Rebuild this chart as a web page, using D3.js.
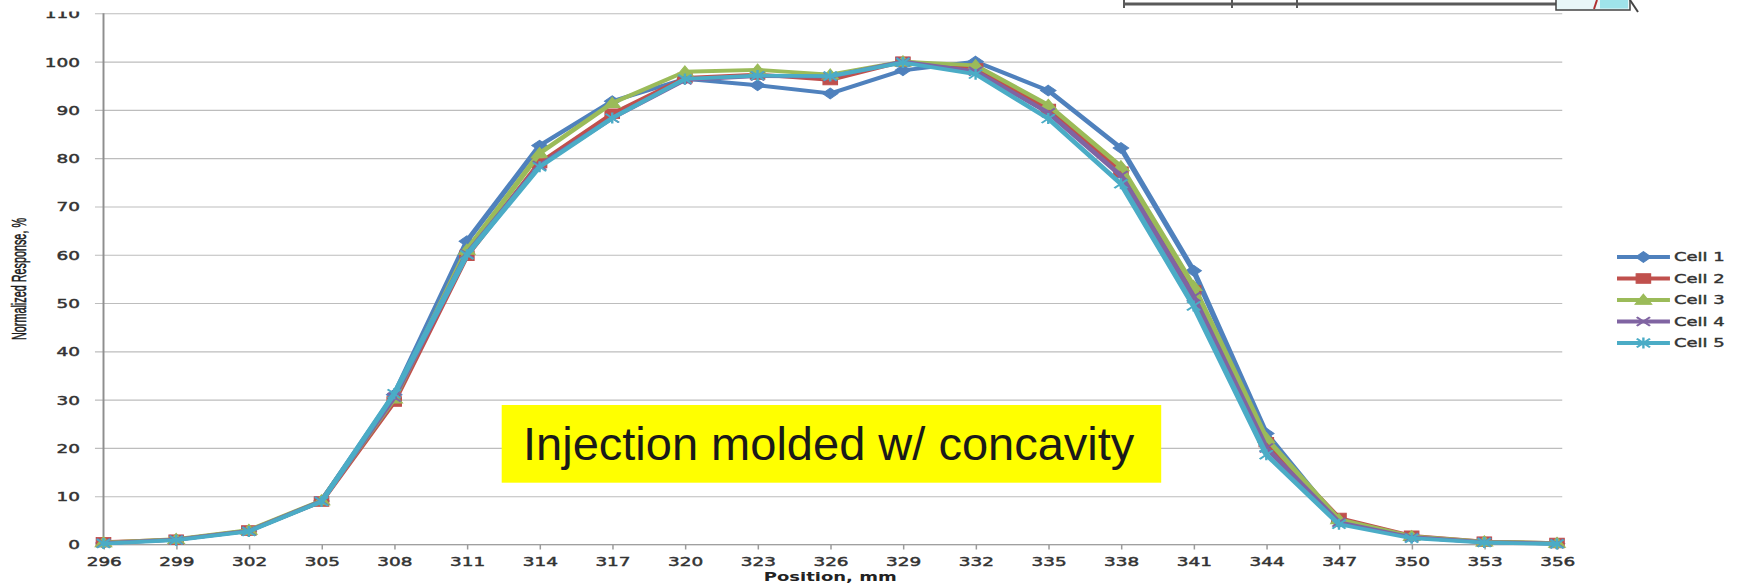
<!DOCTYPE html>
<html>
<head>
<meta charset="utf-8">
<script src="https://cdn.jsdelivr.net/npm/d3@7"></script>
<style>
  html, body { margin: 0; padding: 0; background: #fff; overflow: hidden; }
  svg { display: block; }
</style>
</head>
<body>
<svg id="chart" width="1741" height="586"></svg>
<script>
// Scan positions along the detector (mm) and the tick values of the response axis
const positions = ["296","299","302","305","308","311","314","317","320","323","326",
                   "329","332","335","338","341","344","347","350","353","356"];
const yTicks = [0, 10, 20, 30, 40, 50, 60, 70, 80, 90, 100, 110];

// Normalized response (%) of each cell at each position
const cell1 = [0.3, 1.0, 2.8, 9.0, 31.0, 62.8, 82.6, 91.8, 96.4, 95.1, 93.4, 98.2, 100.0, 94.0, 82.1, 56.7, 23.0, 4.6, 1.5, 0.5, 0.2];
const cell2 = [0.5, 1.0, 2.9, 8.9, 29.6, 59.8, 79.0, 89.2, 96.6, 97.3, 96.2, 100.0, 98.6, 90.2, 77.2, 52.6, 21.2, 5.5, 1.8, 0.6, 0.3];
const cell3 = [0.4, 1.1, 3.0, 9.1, 30.2, 61.0, 81.0, 91.4, 97.9, 98.3, 97.3, 100.0, 99.2, 91.0, 78.3, 53.5, 22.0, 5.2, 1.7, 0.6, 0.3];
const cell4 = [0.3, 1.0, 2.8, 9.0, 30.5, 60.2, 78.5, 88.3, 96.2, 97.0, 96.9, 100.0, 98.0, 89.4, 76.4, 51.3, 20.0, 4.6, 1.5, 0.5, 0.2];
const cell5 = [0.2, 0.9, 2.7, 8.9, 31.2, 60.0, 78.2, 88.3, 96.4, 97.1, 97.0, 99.8, 97.4, 88.2, 74.7, 49.4, 18.6, 4.2, 1.3, 0.4, 0.1];

const seriesNames  = ["Cell 1", "Cell 2", "Cell 3", "Cell 4", "Cell 5"];
const seriesColors = ["#4F81BD", "#C0504D", "#9BBB59", "#8064A2", "#4BACC6"];
const markerKinds  = ["diamond", "square", "triangle", "x", "star"];
const seriesValues = [cell1, cell2, cell3, cell4, cell5];

const noteText = "Injection molded w/ concavity";

// The chart body is laid out in a narrower frame and widened horizontally
const SX = 1.5;
const svg = d3.select("#chart");
const g = svg.append("g").attr("transform", `scale(${SX},1)`);

const plotLeft = 69, plotRight = 1038, gridLeft = 63.3, gridRight = 1041.5;
const x = d3.scalePoint().domain(positions).range([plotLeft, plotRight]);
const y = d3.scaleLinear().domain([0, 110]).range([544.5, 13.3]);

const labelFont = "'DejaVu Sans', Verdana, sans-serif";
const labelColor = "#333";

// Horizontal gridlines with the value labels
const yAxis = d3.axisLeft(y)
  .tickValues(yTicks)
  .tickSize(-(gridRight - gridLeft))
  .tickPadding(10)
  .tickFormat(d3.format("d"));
const yG = g.append("g").attr("transform", `translate(${gridLeft},0)`).call(yAxis);
yG.select(".domain").remove();
yG.selectAll(".tick line").attr("stroke", "#bdbdbd").attr("stroke-width", 1.1);
yG.selectAll(".tick text")
  .attr("font-family", labelFont).attr("font-size", 12.3)
  .attr("fill", labelColor).attr("stroke", labelColor).attr("stroke-width", 0.45)
  .attr("dy", "0.36em");

// Vertical axis line
g.append("line")
  .attr("x1", plotLeft).attr("x2", plotLeft)
  .attr("y1", y(110)).attr("y2", y(0))
  .attr("stroke", "#8e8e8e").attr("stroke-width", 1.3);

// Category axis with its tick marks
const xAxis = d3.axisBottom(x).tickSize(5).tickSizeOuter(0).tickPadding(7.8);
const xG = g.append("g").attr("transform", `translate(0,${y(0)})`).call(xAxis);
xG.select(".domain").remove();
xG.selectAll(".tick line").attr("stroke", "#9a9a9a").attr("stroke-width", 1);
xG.selectAll(".tick text")
  .attr("font-family", labelFont).attr("font-size", 12.3)
  .attr("fill", labelColor).attr("stroke", labelColor).attr("stroke-width", 0.45);
g.append("line")
  .attr("x1", plotLeft).attr("x2", gridRight)
  .attr("y1", y(0)).attr("y2", y(0))
  .attr("stroke", "#a0a0a0").attr("stroke-width", 1.2);

// Marker shapes
function markerPath(kind) {
  switch (kind) {
    case "diamond":  return "M0,-5.4L5.2,0L0,5.4L-5.2,0Z";
    case "square":   return "M-4.8,-4.8h9.6v9.6h-9.6Z";
    case "triangle": return "M0,-5.8L5.6,4.4L-5.6,4.4Z";
    case "x":        return "M-4.4,-4.4L4.4,4.4M-4.4,4.4L4.4,-4.4";
    case "star":     return "M-4.4,-4.4L4.4,4.4M-4.4,4.4L4.4,-4.4M0,-5.5L0,5.5";
  }
}
function drawMarker(sel, kind, color, cx, cy) {
  const p = sel.append("path")
    .attr("d", markerPath(kind))
    .attr("transform", `translate(${cx},${cy})`);
  if (kind === "x" || kind === "star") {
    p.attr("fill", "none").attr("stroke", color).attr("stroke-width", 1.6);
  } else {
    p.attr("fill", color).attr("stroke", color).attr("stroke-width", 0.8);
  }
}

// Series lines and markers
const line = d3.line()
  .x((d, i) => x(positions[i]))
  .y(d => y(d));

seriesValues.forEach((vals, s) => {
  const sg = g.append("g").attr("class", "series");
  sg.append("path")
    .datum(vals)
    .attr("d", line)
    .attr("fill", "none")
    .attr("stroke", seriesColors[s])
    .attr("stroke-width", 3.8)
    .attr("stroke-linejoin", "round")
    .attr("stroke-linecap", "round");
  vals.forEach((v, i) => drawMarker(sg, markerKinds[s], seriesColors[s], x(positions[i]), y(v)));
});

// Legend
const legend = g.append("g");
seriesNames.forEach((name, s) => {
  const ry = 257 + s * 21.5;
  legend.append("line")
    .attr("x1", 1078).attr("x2", 1113.3).attr("y1", ry).attr("y2", ry)
    .attr("stroke", seriesColors[s]).attr("stroke-width", 3.8);
  drawMarker(legend, markerKinds[s], seriesColors[s], 1095.6, ry);
  legend.append("text")
    .attr("x", 1116).attr("y", ry + 4.4)
    .attr("font-family", labelFont).attr("font-size", 12)
    .attr("fill", labelColor).attr("stroke", labelColor).attr("stroke-width", 0.4)
    .text(name);
});

// Axis titles
g.append("text")
  .attr("transform", "translate(17.3,279) rotate(-90)")
  .attr("text-anchor", "middle")
  .attr("font-family", "'Liberation Sans Narrow', 'Arial Narrow', 'Liberation Sans', sans-serif")
  .attr("font-size", 13.5)
  .attr("textLength", 122).attr("lengthAdjust", "spacingAndGlyphs")
  .attr("fill", "#1a1a1a").attr("stroke", "#1a1a1a").attr("stroke-width", 0.35)
  .text("Normalized Response, %");

g.append("text")
  .attr("x", (plotLeft + plotRight) / 2).attr("y", 581)
  .attr("text-anchor", "middle")
  .attr("font-family", labelFont).attr("font-size", 12).attr("font-weight", "bold")
  .attr("fill", "#222")
  .text("Position, mm");

// Top edge of the frame is cut off across the highest gridline label
svg.append("rect").attr("x", 0).attr("y", 0).attr("width", 100).attr("height", 11.5).attr("fill", "#fff");

// Fragment of a neighbouring drawing at the top right edge
const frag = svg.append("g");
frag.append("line").attr("x1", 1124).attr("x2", 1556).attr("y1", 4).attr("y2", 4)
  .attr("stroke", "#5a5a5a").attr("stroke-width", 3);
[1124, 1232, 1297].forEach(px => frag.append("line")
  .attr("x1", px).attr("x2", px).attr("y1", 0).attr("y2", 8)
  .attr("stroke", "#5a5a5a").attr("stroke-width", 2));
frag.append("rect").attr("x", 1556).attr("y", -2).attr("width", 74).attr("height", 12)
  .attr("fill", "#e8f7f8").attr("stroke", "#444").attr("stroke-width", 1.5);
frag.append("rect").attr("x", 1600).attr("y", 0).attr("width", 28).attr("height", 8.5)
  .attr("fill", "#9fe3ea");
frag.append("line").attr("x1", 1597).attr("x2", 1594).attr("y1", 0).attr("y2", 9)
  .attr("stroke", "#b03030").attr("stroke-width", 2);
frag.append("line").attr("x1", 1630).attr("x2", 1638).attr("y1", 0).attr("y2", 12)
  .attr("stroke", "#444").attr("stroke-width", 2);

// Highlighted note
svg.append("rect")
  .attr("x", 501.7).attr("y", 405).attr("width", 659.5).attr("height", 77.7)
  .attr("fill", "#ffff00");
svg.append("text")
  .attr("x", 523).attr("y", 460)
  .attr("font-family", "'Liberation Sans', Arial, Helvetica, sans-serif")
  .attr("font-size", 47).attr("fill", "#1a1a1a")
  .text(noteText);
</script>
</body>
</html>
